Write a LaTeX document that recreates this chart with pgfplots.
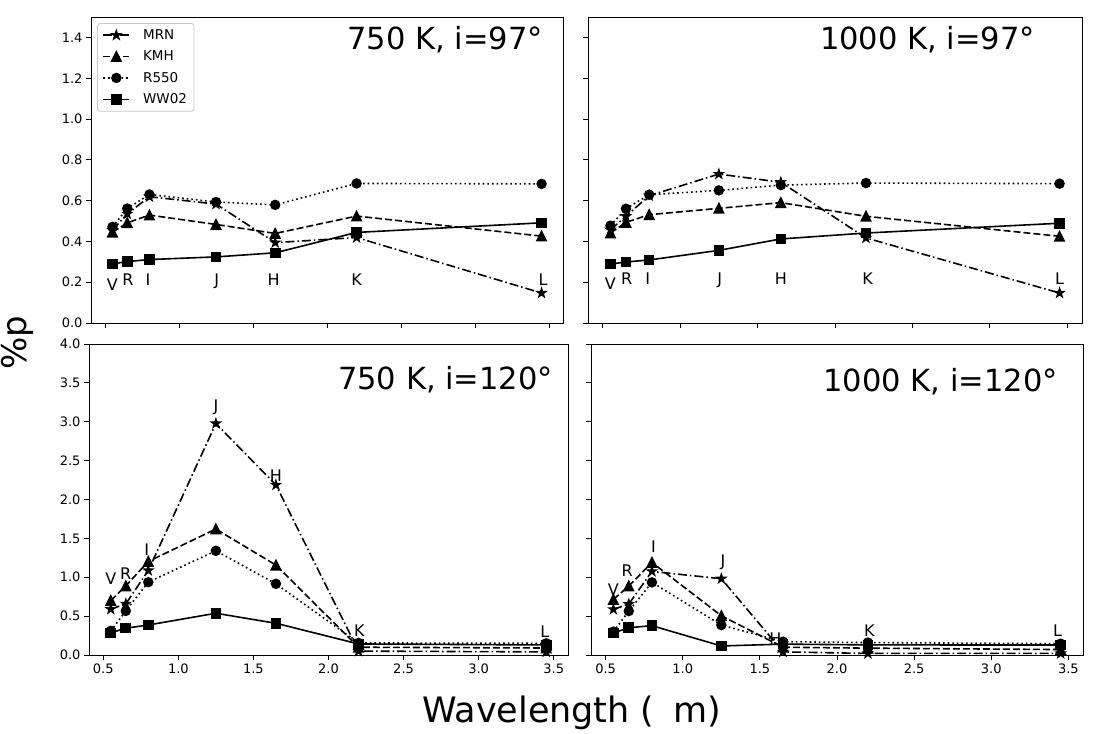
\documentclass[border=0pt]{standalone}
\usepackage{pgfplots}
\pgfplotsset{compat=1.18}
\usepackage{fontspec}
\setmainfont{DejaVu Sans}

\pgfdeclareplotmark{mpltri}{%
  \pgfpathmoveto{\pgfqpoint{0pt}{\pgfplotmarksize}}%
  \pgfpathlineto{\pgfqpoint{-\pgfplotmarksize}{-\pgfplotmarksize}}%
  \pgfpathlineto{\pgfqpoint{\pgfplotmarksize}{-\pgfplotmarksize}}%
  \pgfpathclose
  \pgfusepathqfillstroke}
\pgfdeclareplotmark{mplstar}{%
  \pgfpathmoveto{\pgfpointpolar{90}{\pgfplotmarksize}}%
  \pgfpathlineto{\pgfpointpolar{126}{0.382\pgfplotmarksize}}%
  \pgfpathlineto{\pgfpointpolar{162}{\pgfplotmarksize}}%
  \pgfpathlineto{\pgfpointpolar{198}{0.382\pgfplotmarksize}}%
  \pgfpathlineto{\pgfpointpolar{234}{\pgfplotmarksize}}%
  \pgfpathlineto{\pgfpointpolar{270}{0.382\pgfplotmarksize}}%
  \pgfpathlineto{\pgfpointpolar{306}{\pgfplotmarksize}}%
  \pgfpathlineto{\pgfpointpolar{342}{0.382\pgfplotmarksize}}%
  \pgfpathlineto{\pgfpointpolar{18}{\pgfplotmarksize}}%
  \pgfpathlineto{\pgfpointpolar{54}{0.382\pgfplotmarksize}}%
  \pgfpathclose
  \pgfusepathqfillstroke}

\pgfplotsset{
  panel/.style={
    scale only axis, anchor=south west,
    xmin=0.405, xmax=3.595,
    xtick={0.5,1.0,1.5,2.0,2.5,3.0,3.5},
    tick align=outside, xtick pos=lower, ytick pos=left,
    major tick length=5pt,
    every tick/.style={black, line width=0.8pt},
    axis line style={line width=0.9pt, black},
    tick label style={font=\fontsize{13}{15}\selectfont},
    /pgf/number format/assume math mode=true,
    /pgf/number format/fixed, /pgf/number format/fixed zerofill,
    /pgf/number format/precision=1,
    clip mode=individual,
    legend image code/.code={\draw[mark repeat=2,mark phase=2,##1] plot coordinates {(0pt,0pt) (13pt,0pt) (26pt,0pt)};},
  },
  toprow/.style={ymin=0, ymax=1.5, ytick={0,0.2,0.4,0.6,0.8,1.0,1.2,1.4}, xticklabels={}},
  botrow/.style={ymin=0, ymax=4, ytick={0,0.5,1.0,1.5,2.0,2.5,3.0,3.5,4.0}},
  mrn/.style={black, line width=1.6pt, dash pattern=on 9pt off 3pt on 1.5pt off 3pt, mark=mplstar, mark size=4.1pt, mark options={solid, fill=black}},
  kmh/.style={black, line width=1.6pt, dash pattern=on 7pt off 3pt, mark=mpltri, mark size=4.6pt, mark options={solid, fill=black}},
  r550/.style={black, line width=1.6pt, dash pattern=on 1.6pt off 3pt, mark=*, mark size=4.4pt, mark options={solid, fill=black}},
  ww02/.style={black, line width=1.6pt, solid, mark=square*, mark size=4.5pt, mark options={solid, fill=black}},
}
\newcommand{\band}[3]{\node[anchor=base, inner sep=0pt, font=\fontsize{16}{19}\selectfont] at (axis cs:#1,#2) {#3};}
\newcommand{\ptitle}[3]{\node[anchor=east, inner sep=0pt, font=\fontsize{30.5}{36}\selectfont] at (rel axis cs:#1,#2) {#3};}

\begin{document}
\begin{tikzpicture}[x=1pt,y=1pt]
\useasboundingbox (0,0) rectangle (1115,733);

% ---------------- top left: 750 K, i=97
\begin{axis}[panel, toprow, at={(91pt,410pt)}, width=472pt, height=306pt,
  legend entries={MRN,KMH,R550,WW02},
  legend cell align=left,
  legend style={at={(rel axis cs:0.013,0.98)}, anchor=north west,
    font=\fontsize{13.5}{16}\selectfont, draw=black!22, line width=0.8pt,
    rounded corners=2.5pt, row sep=6pt, inner xsep=5pt, inner ysep=4pt,
    /tikz/every odd column/.append style={column sep=11pt}}]
\addplot[mrn] coordinates {(0.55,0.455)(0.65,0.535)(0.80,0.619)(1.25,0.583)(1.65,0.394)(2.20,0.419)(3.45,0.147)};
\addplot[kmh] coordinates {(0.55,0.445)(0.65,0.491)(0.80,0.529)(1.25,0.483)(1.65,0.439)(2.20,0.524)(3.45,0.426)};
\addplot[r550] coordinates {(0.55,0.471)(0.65,0.561)(0.80,0.630)(1.25,0.593)(1.65,0.579)(2.20,0.684)(3.45,0.682)};
\addplot[ww02] coordinates {(0.55,0.290)(0.65,0.301)(0.80,0.311)(1.25,0.324)(1.65,0.344)(2.20,0.444)(3.45,0.491)};
\band{0.55}{0.160}{V}\band{0.655}{0.185}{R}\band{0.79}{0.185}{I}\band{1.255}{0.185}{J}
\band{1.64}{0.185}{H}\band{2.20}{0.185}{K}\band{3.46}{0.185}{L}
\ptitle{0.958}{0.925}{750 K, i=97°}
\end{axis}

% ---------------- top right: 1000 K, i=97
\begin{axis}[panel, toprow, at={(588pt,410pt)}, width=494pt, height=306pt, yticklabels={}]
\addplot[mrn] coordinates {(0.55,0.457)(0.65,0.523)(0.80,0.624)(1.25,0.730)(1.65,0.690)(2.20,0.417)(3.45,0.147)};
\addplot[kmh] coordinates {(0.55,0.441)(0.65,0.493)(0.80,0.531)(1.25,0.562)(1.65,0.590)(2.20,0.523)(3.45,0.425)};
\addplot[r550] coordinates {(0.55,0.477)(0.65,0.560)(0.80,0.629)(1.25,0.650)(1.65,0.676)(2.20,0.686)(3.45,0.683)};
\addplot[ww02] coordinates {(0.55,0.289)(0.65,0.299)(0.80,0.309)(1.25,0.356)(1.65,0.412)(2.20,0.441)(3.45,0.489)};
\band{0.55}{0.165}{V}\band{0.655}{0.188}{R}\band{0.79}{0.188}{I}\band{1.255}{0.188}{J}
\band{1.65}{0.188}{H}\band{2.21}{0.188}{K}\band{3.45}{0.188}{L}
\ptitle{0.905}{0.925}{1000 K, i=97°}
\end{axis}

% ---------------- bottom left: 750 K, i=120
\begin{axis}[panel, botrow, at={(89pt,78pt)}, width=479pt, height=311pt]
\addplot[mrn] coordinates {(0.55,0.589)(0.65,0.658)(0.80,1.087)(1.25,2.977)(1.65,2.187)(2.20,0.05)(3.45,0.04)};
\addplot[kmh] coordinates {(0.55,0.700)(0.65,0.889)(0.80,1.203)(1.25,1.620)(1.65,1.156)(2.20,0.10)(3.45,0.09)};
\addplot[r550] coordinates {(0.55,0.31)(0.65,0.567)(0.80,0.937)(1.25,1.340)(1.65,0.915)(2.20,0.155)(3.45,0.150)};
\addplot[ww02] coordinates {(0.55,0.284)(0.65,0.345)(0.80,0.386)(1.25,0.537)(1.65,0.408)(2.20,0.142)(3.45,0.129)};
\band{0.55}{0.902}{V}\band{0.65}{0.975}{R}\band{0.79}{1.276}{I}\band{1.25}{3.136}{J}
\band{1.65}{2.234}{H}\band{2.206}{0.236}{K}\band{3.44}{0.228}{L}
\ptitle{0.969}{0.884}{750 K, i=120°}
\end{axis}

% ---------------- bottom right: 1000 K, i=120
\begin{axis}[panel, botrow, at={(591pt,78pt)}, width=492pt, height=311pt, yticklabels={}]
\addplot[mrn] coordinates {(0.55,0.587)(0.65,0.655)(0.80,1.075)(1.25,0.981)(1.65,0.04)(2.20,0.02)(3.45,0.02)};
\addplot[kmh] coordinates {(0.55,0.715)(0.65,0.887)(0.80,1.190)(1.25,0.505)(1.65,0.10)(2.20,0.088)(3.45,0.07)};
\addplot[r550] coordinates {(0.55,0.30)(0.65,0.565)(0.80,0.934)(1.25,0.385)(1.65,0.171)(2.20,0.160)(3.45,0.145)};
\addplot[ww02] coordinates {(0.55,0.283)(0.65,0.351)(0.80,0.377)(1.25,0.116)(1.65,0.14)(2.20,0.130)(3.45,0.128)};
\band{0.55}{0.77}{V}\band{0.64}{1.015}{R}\band{0.81}{1.315}{I}\band{1.26}{1.135}{J}
\band{1.60}{0.14}{H}\band{2.21}{0.244}{K}\band{3.43}{0.244}{L}
\ptitle{0.949}{0.878}{1000 K, i=120°}
\end{axis}

\node[anchor=base west, inner sep=0pt, font=\fontsize{35}{40}\selectfont] at (422,11) {Wavelength (\hspace{0.55em}m)};
\node[rotate=90, inner sep=0pt, font=\fontsize{34}{40}\selectfont] at (17,390) {\%p};
\end{tikzpicture}
\end{document}
